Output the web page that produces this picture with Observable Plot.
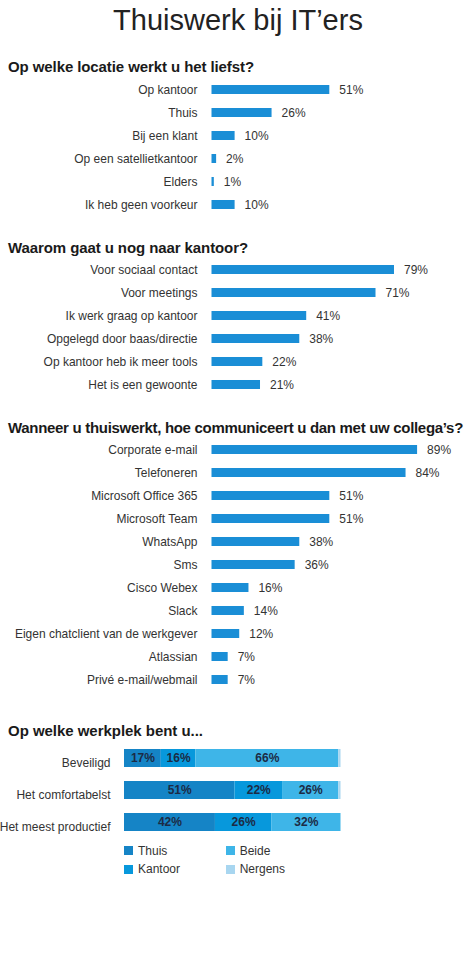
<!DOCTYPE html>
<html>
<head>
<meta charset="utf-8">
<script src="https://cdn.jsdelivr.net/npm/d3@7"></script>
<script src="https://cdn.jsdelivr.net/npm/@observablehq/plot@0.6"></script>
<style>
  html, body { margin: 0; padding: 0; background: #fff; }
  body { width: 476px; height: 976px; position: relative; overflow: hidden;
         font-family: "Liberation Sans", Arial, Helvetica, sans-serif; color: #333; }
  .abs { position: absolute; }
  .title { left: 0; width: 476px; text-align: center; font-size: 29px; line-height: 29px; color: #222; }
  .head { left: 8px; font-size: 15px; line-height: 15px; font-weight: bold; color: #1a1a1a; white-space: nowrap; }
  .sw { width: 9px; height: 9px; }
  .lt { font-size: 12px; line-height: 12px; color: #333; }
  svg { overflow: visible; }
</style>
</head>
<body>
<script>
// ---------- DATA ----------
const titleText = "Thuiswerk bij IT’ers";

const locatieTitle = "Op welke locatie werkt u het liefst?";
const locatieLabels = ["Op kantoor", "Thuis", "Bij een klant", "Op een satellietkantoor", "Elders", "Ik heb geen voorkeur"];
const locatieValues = [51, 26, 10, 2, 1, 10];

const redenTitle = "Waarom gaat u nog naar kantoor?";
const redenLabels = ["Voor sociaal contact", "Voor meetings", "Ik werk graag op kantoor", "Opgelegd door baas/directie", "Op kantoor heb ik meer tools", "Het is een gewoonte"];
const redenValues = [79, 71, 41, 38, 22, 21];

const communicatieTitle = "Wanneer u thuiswerkt, hoe communiceert u dan met uw collega’s?";
const communicatieLabels = ["Corporate e-mail", "Telefoneren", "Microsoft Office 365", "Microsoft Team", "WhatsApp", "Sms", "Cisco Webex", "Slack", "Eigen chatclient van de werkgever", "Atlassian", "Privé e-mail/webmail"];
const communicatieValues = [89, 84, 51, 51, 38, 36, 16, 14, 12, 7, 7];

const werkplekTitle = "Op welke werkplek bent u...";
const werkplekCategories = ["Beveiligd", "Het comfortabelst", "Het meest productief"];
const werkplekSeries = ["Thuis", "Kantoor", "Beide", "Nergens"];
const thuisValues   = [17, 51, 42];
const kantoorValues = [16, 22, 26];
const beideValues   = [66, 26, 32];
const nergensValues = [1, 1, 0];

const barColor = "#1a8ed6";
const seriesColors = ["#1584c6", "#0798dc", "#3eb5e8", "#a8d6f0"];

// ---------- LAYOUT HELPERS ----------
const FONT = '"Liberation Sans", Arial, Helvetica, sans-serif';
function place(node, top, left = 0) {
  node.classList.add("abs");
  node.style.top = top + "px";
  node.style.left = left + "px";
  document.body.appendChild(node);
  return node;
}
function textDiv(cls, text, top, left, maxWidth) {
  const d = document.createElement("div");
  d.className = cls;
  d.textContent = text;
  place(d, top, left);
  if (maxWidth) {
    const w = d.getBoundingClientRect().width;
    if (w > maxWidth) d.style.letterSpacing = ((maxWidth - w) / text.length) + "px";
  }
  return d;
}

textDiv("title", titleText, 5.5, 0);

const STEP = 23.1;
function barSection(labels, values, top) {
  const data = labels.map((label, i) => ({label, value: values[i]}));
  const chart = Plot.plot({
    width: 476,
    height: labels.length * STEP,
    marginLeft: 211.5,
    marginRight: 33.5,
    marginTop: 0,
    marginBottom: 0,
    style: {fontFamily: FONT, fontSize: "12px", color: "#333", background: "transparent", overflow: "visible"},
    x: {domain: [0, 100], axis: null},
    y: {domain: labels, paddingInner: 0.6, paddingOuter: 0.3, label: null, axis: null},
    marks: [
      Plot.barX(data, {x: "value", y: "label", fill: barColor}),
      Plot.text(data, {x: "value", y: "label", text: d => d.value + "%", textAnchor: "start", dx: 9.5, fill: "#333", fontSize: 12}),
      Plot.axisY({tickSize: 0, tickPadding: 14.5, fontSize: 12, label: null})
    ]
  });
  place(chart, top, 0);
}

// Section 1
textDiv("head", locatieTitle, 59, 8, 246);
barSection(locatieLabels, locatieValues, 89.3 - STEP / 2);

// Section 2
textDiv("head", redenTitle, 239.7, 8, 240);
barSection(redenLabels, redenValues, 269.8 - STEP / 2);

// Section 3
textDiv("head", communicatieTitle, 419.7, 8, 455);
barSection(communicatieLabels, communicatieValues, 450 - STEP / 2);

// Section 4: stacked
textDiv("head", werkplekTitle, 722.5, 8, 195);
const seriesValues = [thuisValues, kantoorValues, beideValues, nergensValues];
const stacked = [];
werkplekCategories.forEach((cat, i) => {
  werkplekSeries.forEach((s, j) => {
    stacked.push({cat, series: s, value: seriesValues[j][i]});
  });
});
const STEP4 = 32.5;
const stackChart = Plot.plot({
  width: 476,
  height: werkplekCategories.length * STEP4,
  marginLeft: 124,
  marginRight: 135.5,
  marginTop: 0,
  marginBottom: 0,
  style: {fontFamily: FONT, fontSize: "12px", color: "#333", background: "transparent", overflow: "visible"},
  x: {domain: [0, 100], axis: null},
  y: {domain: werkplekCategories, paddingInner: 0.43, paddingOuter: 0.215, label: null, axis: null},
  color: {domain: werkplekSeries, range: seriesColors},
  marks: [
    Plot.barX(stacked, {x: "value", y: "cat", fill: "series"}),
    Plot.text(stacked, Plot.stackX({x: "value", y: "cat",
      text: d => d.value >= 5 ? d.value + "%" : "",
      fill: "#1c2b45", fontWeight: "bold", fontSize: 12})),
    Plot.axisY({tickSize: 0, tickPadding: 14, dy: 5, fontSize: 12, label: null})
  ]
});
place(stackChart, 757.5 - STEP4 / 2, 0);

// Legend
const legendPos = [[124, 846], [124, 864.5], [225.7, 846], [225.7, 864.5]];
werkplekSeries.forEach((s, j) => {
  const [lx, ly] = legendPos[j];
  const sw = document.createElement("div");
  sw.className = "sw";
  sw.style.background = seriesColors[j];
  place(sw, ly, lx);
  textDiv("lt", s, ly - 1.5, lx + 14);
});
</script>
</body>
</html>
